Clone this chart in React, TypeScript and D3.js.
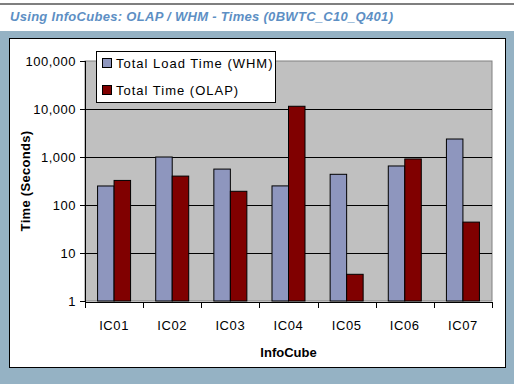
import React from "react";
import * as d3 from "d3";

const categories = ["IC01", "IC02", "IC03", "IC04", "IC05", "IC06", "IC07"];
const seriesNames = ["Total Load Time (WHM)", "Total Time (OLAP)"];
const loadTimeWHM = [249, 1000, 560, 250, 436, 650, 2370];
const totalTimeOLAP = [325, 400, 193, 11400, 3.6, 910, 44];
const yTicks = [1, 10, 100, 1000, 10000, 100000];
const colors = ["#8E96BE", "#800000"];

export default function App() {
  const W = 514, H = 384;
  const left = 85, right = 492, top = 61, bottom = 301;
  const x = d3.scaleBand<string>().domain(categories).range([left, right]);
  const y = d3.scaleLog().domain([1, 100000]).range([bottom, top]);
  const fmt = d3.format(",");
  const barW = 16.5;
  const series = [loadTimeWHM, totalTimeOLAP];
  const font = "'Liberation Sans', Arial, sans-serif";

  return (
    <svg width={W} height={H} style={{ position: "absolute", left: 0, top: 0 }} fontFamily={font}>
      <rect x={0} y={0} width={W} height={H} fill="#ffffff" />
      <rect x={0} y={3} width={W} height={2} fill="#7f7f7f" />
      <text x={10} y={21} fontSize={13} fontStyle="italic" fontWeight="bold" fill="#5D8FC4" letterSpacing={0.3}>
        Using InfoCubes: OLAP / WHM - Times (0BWTC_C10_Q401)
      </text>
      <rect x={0} y={31} width={W} height={H - 31} fill="#95B2C4" />
      <rect x={9.5} y={38.5} width={496} height={329} fill="#ffffff" stroke="#000" strokeWidth={1} />
      <rect x={left} y={top} width={right - left} height={bottom - top} fill="#C0C0C0" stroke="#808080" strokeWidth={1} />
      {yTicks.slice(1, -1).map((t) => (
        <line key={t} x1={left} x2={right} y1={Math.round(y(t)) + 0.5} y2={Math.round(y(t)) + 0.5} stroke="#000" />
      ))}
      {categories.map((c, i) =>
        series.map((s, j) => {
          const cx = (x(c) as number) + x.bandwidth() / 2;
          const bx = cx - barW + j * barW;
          return (
            <rect
              key={c + j}
              x={bx}
              y={y(s[i])}
              width={barW}
              height={bottom - y(s[i])}
              fill={colors[j]}
              stroke="#000"
              strokeWidth={1}
            />
          );
        })
      )}
      <line x1={left + 0.5} x2={left + 0.5} y1={top} y2={bottom + 1} stroke="#000" />
      <line x1={left} x2={right} y1={bottom + 1.5} y2={bottom + 1.5} stroke="#000" />
      {yTicks.map((t) => (
        <g key={t}>
          <line x1={left - 5} x2={left} y1={Math.round(y(t)) + 0.5} y2={Math.round(y(t)) + 0.5} stroke="#000" />
          <text x={76} y={y(t) + 4.5} textAnchor="end" fontSize={13} fill="#000" letterSpacing={0.5}>
            {fmt(t)}
          </text>
        </g>
      ))}
      {categories.map((c) => (
        <line key={c} x1={Math.round(x(c) as number) + 0.5} x2={Math.round(x(c) as number) + 0.5} y1={bottom + 1} y2={bottom + 7} stroke="#000" />
      ))}
      <line x1={right + 0.5} x2={right + 0.5} y1={bottom + 1} y2={bottom + 7} stroke="#000" />
      {categories.map((c) => (
        <text key={c} x={(x(c) as number) + x.bandwidth() / 2} y={330} textAnchor="middle" fontSize={13} fill="#000" letterSpacing={0.6}>
          {c}
        </text>
      ))}
      <text x={(left + right) / 2} y={357} textAnchor="middle" fontSize={13} fontWeight="bold" fill="#000">
        InfoCube
      </text>
      <text
        transform={`translate(30, ${(top + bottom) / 2}) rotate(-90)`}
        textAnchor="middle"
        fontSize={13}
        fontWeight="bold"
        fill="#000"
        letterSpacing={0.3}
      >
        Time (Seconds)
      </text>
      <rect x={96.5} y={51.5} width={179} height={51} fill="#fff" stroke="#000" />
      {seriesNames.map((n, j) => (
        <g key={n}>
          <rect x={102.5} y={58.5 + j * 27} width={9} height={9} fill={colors[j]} stroke="#000" />
          <text x={116} y={67.5 + j * 27} fontSize={13} fill="#000" letterSpacing={1}>
            {n}
          </text>
        </g>
      ))}
    </svg>
  );
}
